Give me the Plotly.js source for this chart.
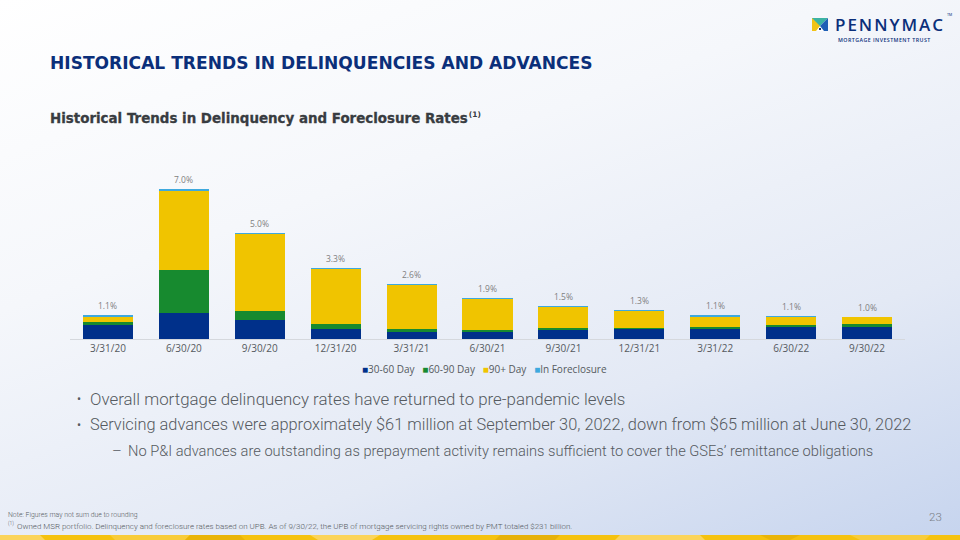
<!DOCTYPE html>
<html>
<head>
<meta charset="utf-8">
<script src="https://cdn.plot.ly/plotly-3.0.1.min.js"></script>
<style>
  html,body{margin:0;padding:0;}
  #slide{position:relative;width:960px;height:540px;overflow:hidden;
    background:linear-gradient(160deg,#ffffff 0%,#f5f7fb 35%,#e3e9f5 70%,#c6d4ee 100%);}
  #chart{position:absolute;left:0;top:0;width:960px;height:540px;}
  .t{position:absolute;white-space:nowrap;line-height:1;}
  #title{left:50px;top:55px;font-family:"DejaVu Sans",sans-serif;font-weight:700;font-size:17px;color:#0b2f7a;}
  #sub{left:50px;top:112px;font-family:"DejaVu Sans",sans-serif;font-weight:700;font-size:13px;color:#383c41;-webkit-text-stroke:0.3px #383c41;}
  #subsup{left:470px;top:111px;font-family:"DejaVu Sans",sans-serif;font-weight:700;font-size:7.5px;color:#383c41;}
  .b{font-family:Roboto,sans-serif;font-weight:300;font-size:15px;color:#555a60;}
  .dot{font-size:12px;font-weight:400;}
  .fn{font-family:Roboto,sans-serif;font-weight:300;font-size:7.5px;color:#555a60;}
  #pg{left:929px;top:512px;font-family:Roboto,sans-serif;font-weight:300;font-size:11.5px;color:#7a7f86;}
  #logo{position:absolute;left:812px;top:15px;}
  #lt{left:835px;top:16px;font-family:"Open Sans",sans-serif;font-weight:600;font-size:17px;color:#0b2f7a;}
  #ls{left:838px;top:37.5px;font-family:"Open Sans",sans-serif;font-weight:600;font-size:5.3px;color:#0b2f7a;letter-spacing:0.45px;}
  #tm{left:947px;top:14px;font-family:Roboto,sans-serif;font-size:3.5px;color:#0b2f7a;}
  #strip{position:absolute;left:0;top:535px;width:960px;height:5px;}
</style>
</head>
<body>
<div id="slide">
  <div id="chart"></div>
  <svg id="logo" width="18" height="18" viewBox="0 0 18 18">
    <polygon points="0,3 8,3 8,16 0,16" fill="#f2c316"/>
    <polygon points="0,3 16,3 8,11" fill="#3cb3a3"/>
    <polygon points="16,3 16,16 8,16 8,11" fill="#1f5fb5"/>
    <polygon points="8,11 4,16 12,16" fill="#ffffff"/>
    <rect x="7" y="13" width="2" height="2" fill="#0b2f7a"/>
  </svg>
  <div class="t" id="lt">PENNYMAC</div>
  <div class="t" id="tm">TM</div>
  <div class="t" id="ls">MORTGAGE INVESTMENT TRUST</div>
  <div class="t" id="title">HISTORICAL TRENDS IN DELINQUENCIES AND ADVANCES</div>
  <div class="t" id="sub">Historical Trends in Delinquency and Foreclosure Rates</div>
  <div class="t" id="subsup">(1)</div>
  <div class="t b dot" style="left:77px;top:393px;">•</div>
  <div class="t b" id="b1" style="left:90px;top:391px;">Overall mortgage delinquency rates have returned to pre-pandemic levels</div>
  <div class="t b dot" style="left:77px;top:419px;">•</div>
  <div class="t b" id="b2" style="left:90px;top:417px;">Servicing advances were approximately $61 million at September 30, 2022, down from $65 million at June 30, 2022</div>
  <div class="t b" style="left:112px;top:444px;">–</div>
  <div class="t b" id="b3" style="left:128px;top:444px;">No P&amp;I advances are outstanding as prepayment activity remains sufficient to cover the GSEs’ remittance obligations</div>
  <div class="t fn" id="f1" style="left:8px;top:512px;">Note: Figures may not sum due to rounding</div>
  <div class="t fn" style="left:8px;top:521px;font-size:5px;">(1)</div>
  <div class="t fn" id="f2" style="left:17px;top:523px;">Owned MSR portfolio. Delinquency and foreclosure rates based on UPB. As of 9/30/22, the UPB of mortgage servicing rights owned by PMT totaled $231 billion.</div>
  <div class="t" id="pg">23</div>
  <svg id="strip" width="960" height="5" viewBox="0 0 960 5" preserveAspectRatio="none">
    <rect x="0" y="0" width="960" height="5" fill="#f5c20f"/>
    <polygon points="0,0 40,0 45,5 0,5" fill="#fbd45a"/>
    <polygon points="110,0 190,0 185,5 115,5" fill="#f8cc3a"/>
    <polygon points="190,0 240,0 245,5 185,5" fill="#e9b408"/>
    <polygon points="310,0 380,0 372,5 318,5" fill="#fbd45a"/>
    <polygon points="500,0 560,0 555,5 495,5" fill="#e6b10a"/>
    <polygon points="620,0 700,0 705,5 615,5" fill="#fbd45a"/>
    <polygon points="760,0 800,0 790,5 770,5" fill="#e9b408"/>
    <polygon points="850,0 930,0 925,5 860,5" fill="#f8cc3a"/>
  </svg>
</div>
<script>
// ---- data ----
var categories = ['3/31/20','6/30/20','9/30/20','12/31/20','3/31/21','6/30/21','9/30/21','12/31/21','3/31/22','6/30/22','9/30/22'];
var day30to60 = [0.67,1.23,0.90,0.48,0.33,0.33,0.40,0.45,0.45,0.56,0.54];
var day60to90 = [0.12,2.00,0.39,0.22,0.14,0.09,0.10,0.07,0.09,0.09,0.14];
var day90plus = [0.22,3.69,3.61,2.55,2.04,1.45,1.00,0.79,0.50,0.37,0.33];
var inForeclosure = [0.09,0.08,0.05,0.05,0.05,0.05,0.05,0.05,0.06,0.05,0.03];
var totalLabels = ['1.1%','7.0%','5.0%','3.3%','2.6%','1.9%','1.5%','1.3%','1.1%','1.1%','1.0%'];
var seriesNames = ['30-60 Day','60-90 Day','90+ Day','In Foreclosure'];
var seriesColors = ['#00308a','#178a2f','#f0c400','#3ea9de'];

var seriesValues = [day30to60, day60to90, day90plus, inForeclosure];
var traces = seriesValues.map(function(vals, i){
  return {type:'bar', name:seriesNames[i], x:categories, y:vals,
    marker:{color:seriesColors[i], line:{width:0}}, hoverinfo:'skip'};
});
var totals = categories.map(function(c, j){
  return seriesValues.reduce(function(s, v){ return s + v[j]; }, 0);
});
var annotations = categories.map(function(c, j){
  return {x:c, y:totals[j], xref:'x', yref:'y', text:totalLabels[j], showarrow:false,
    yanchor:'bottom', yshift:2, font:{family:'Open Sans, sans-serif', size:8.5, color:'#7f7f7f'}};
});
var legendText = seriesNames.map(function(n, i){
  return '<span style="color:' + seriesColors[i] + '">■</span>' + n;
}).join('&nbsp;&nbsp;&nbsp;');
annotations.push({xref:'paper', yref:'paper', x:0.4964, y:-0.18, yanchor:'middle', xanchor:'center',
  text:legendText, showarrow:false, font:{family:'Open Sans, sans-serif', size:10, color:'#555a60'}});

var layout = {
  width:960, height:540,
  margin:{l:70, r:55, t:170, b:201, pad:0},
  paper_bgcolor:'rgba(0,0,0,0)', plot_bgcolor:'rgba(0,0,0,0)',
  barmode:'stack', bargap:0.34, showlegend:false,
  xaxis:{type:'category', showline:true, linecolor:'#d5d8dd', linewidth:1, ticks:'',
    showgrid:false, zeroline:false, tickfont:{family:'Open Sans, sans-serif', size:10, color:'#555a60'}},
  yaxis:{range:[0, 7.886], visible:false, showgrid:false, zeroline:false},
  annotations:annotations
};
Plotly.newPlot('chart', traces, layout, {staticPlot:true, displayModeBar:false});

// fit slide text widths to reference extents by scaling font size
function fitSize(id, w){
  var el = document.getElementById(id);
  var cur = el.getBoundingClientRect().width;
  var fs = parseFloat(getComputedStyle(el).fontSize);
  el.style.fontSize = (fs * w / cur) + 'px';
}
function fitSpacing(id, w){
  var el = document.getElementById(id);
  var n = el.textContent.length;
  var cur = el.getBoundingClientRect().width;
  el.style.letterSpacing = ((w - cur) / n) + 'px';
}
fitSize('title', 543);
fitSize('sub', 418);
fitSize('b1', 536);
fitSize('b2', 822);
fitSize('b3', 746);
fitSize('f1', 130);
fitSize('f2', 556);
fitSpacing('lt', 110);
var subBox = document.getElementById('sub').getBoundingClientRect();
document.getElementById('subsup').style.left = (subBox.right + 1) + 'px';
</script>
</body>
</html>
